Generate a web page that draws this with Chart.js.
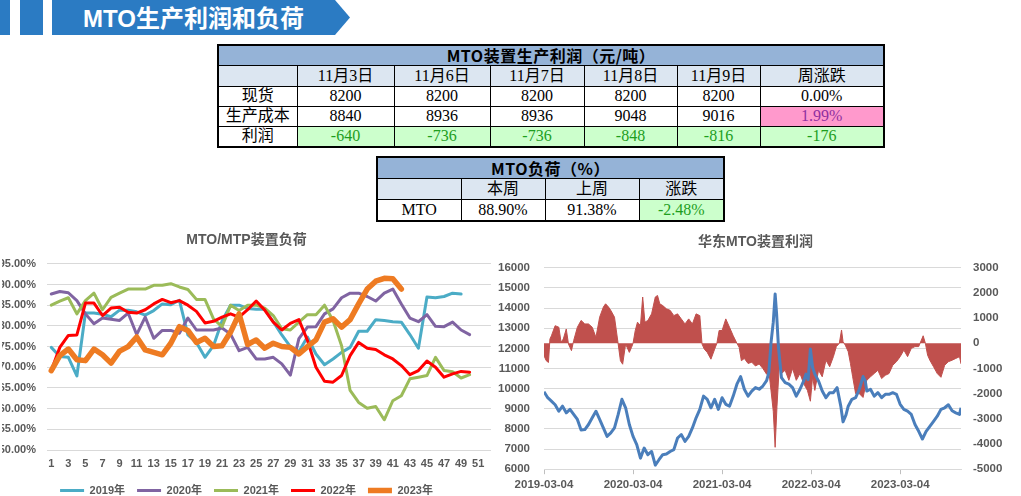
<!DOCTYPE html>
<html>
<head>
<meta charset="utf-8">
<script src="https://cdn.jsdelivr.net/npm/chart.js@4/dist/chart.umd.min.js"></script>
<style>
  body { margin: 0; width: 1021px; height: 496px; overflow: hidden; background: #fff; position: relative;
         font-family: "Liberation Serif", "Noto Sans CJK SC", serif; }
  .blk { position: absolute; top: 0; height: 35px; background: #2B7BC3; }
  #banner { left: 52px; width: 298px; clip-path: polygon(0 0, 283px 0, 298px 17.5px, 283px 35px, 0 35px); }
  #bannerText { position: absolute; left: 52px; width: 283px; top: 3px; text-align: center; color: #fff;
                font: bold 24px "Liberation Sans", "Noto Sans CJK SC", sans-serif; line-height: 32px; }
  table { position: absolute; border-collapse: collapse; table-layout: fixed; border: 2px solid #000; }
  td { border: 1px solid #000; text-align: center; padding: 0; font-size: 16px; line-height: 1;
       white-space: nowrap; overflow: hidden; color: #000; }
  .ttl { background: #95B3D7; font-weight: bold; font-family: "Noto Sans CJK SC", sans-serif; font-size: 16px;
         letter-spacing: 0.5px; }
  .hd { background: #DCE6F1; }
  .up { background: #FF99CC; color: #9030A0; }
  .dn { background: #CCFFCC; color: #1E9E1E; }
  canvas { position: absolute; }
</style>
</head>
<body>
<div class="blk" style="left:0;width:10px"></div>
<div class="blk" style="left:20px;width:23px"></div>
<div class="blk" id="banner"></div>
<div id="bannerText">MTO生产利润和负荷</div>

<table id="profitTable" style="left:217px;top:44px;width:666px"></table>
<table id="loadTable" style="left:376px;top:156px;width:347px"></table>

<canvas id="loadChart" width="503" height="278" style="left:-8px;top:228px"></canvas>
<canvas id="profitChart" width="531" height="268" style="left:490px;top:228px"></canvas>

<script>
// ======================================
// Data
// ======================================
const tableDates = ['11月3日', '11月6日', '11月7日', '11月8日', '11月9日'];
const spotPrice = [8200, 8200, 8200, 8200, 8200];
const prodCost = [8840, 8936, 8936, 9048, 9016];
const prodProfit = [-640, -736, -736, -848, -816];
const weekChange = ['0.00%', '1.99%', '-176'];

const loadHeads = ['本周', '上周', '涨跌'];
const loadRow = ['88.90%', '91.38%', '-2.48%'];

// MTO/MTP load by week, %
const weeks = Array.from({ length: 52 }, (_, i) => String(i + 1));
const load2019 = [74.8, 72.6, 72.4, 67.9, 83.1, 83.1, 82.8, 82.2, 83.8, 83.8, 83.4, 82.6, 83.7, 85.3, 85.1, 86.2,
  77.8, 76.0, 72.4, 75.2, 81.2, 85.0, 85.0, 84.2, 84.0, 84.0, 81.0, 77.8, 75.0, 73.8, 77.3, 73.2, 70.6, 72.0,
  73.6, 74.8, 78.7, 78.7, 81.5, 81.3, 81.0, 80.9, 77.9, 74.6, 87.0, 86.8, 87.1, 87.9, 87.7];
const load2020 = [87.7, 88.3, 88.0, 86.1, 82.9, 80.5, 81.9, 81.6, 81.3, 83.1, 77.9, 82.1, 77.0, 78.9, 78.9, 78.2,
  81.9, 79.0, 79.0, 79.0, 79.5, 78.0, 74.0, 74.8, 72.0, 72.0, 72.4, 70.8, 68.1, 76.9, 79.7, 79.8, 82.9, 84.1,
  86.8, 87.9, 87.9, 87.1, 86.0, 87.9, 88.9, 85.3, 81.9, 81.0, 82.7, 79.9, 79.8, 80.9, 79.0, 77.9];
const load2021 = [85.0, 86.0, 86.8, 82.9, 86.1, 87.9, 83.9, 86.9, 87.9, 88.9, 88.9, 88.9, 89.8, 89.8, 90.2, 89.4,
  88.8, 86.4, 86.4, 81.7, 79.8, 85.0, 83.7, 85.0, 85.0, 84.3, 82.5, 79.3, 79.0, 80.9, 82.7, 82.7, 85.0, 81.3,
  75.2, 64.4, 61.5, 60.1, 60.5, 57.3, 61.9, 63.1, 67.2, 67.6, 68.0, 72.4, 69.2, 68.9, 67.4, 68.2];
const load2022 = [69.2, 74.8, 77.7, 77.8, 85.5, 85.5, 82.5, 84.3, 84.5, 83.3, 83.1, 83.9, 85.3, 86.4, 85.6, 86.1,
  85.0, 83.5, 80.7, 81.1, 82.1, 82.9, 82.1, 83.9, 86.0, 83.8, 80.9, 79.0, 80.6, 81.5, 76.5, 70.0, 66.6, 66.4,
  68.0, 72.8, 76.0, 74.6, 74.3, 73.0, 72.0, 70.4, 68.2, 69.2, 71.5, 70.0, 67.6, 68.4, 69.0, 68.8];
const load2023 = [69.2, 72.8, 74.4, 71.8, 71.6, 74.4, 73.0, 71.0, 73.9, 75.0, 77.3, 74.2, 73.6, 73.0, 75.8, 79.8,
  78.9, 76.0, 77.0, 75.0, 75.2, 78.5, 82.9, 75.5, 76.6, 74.6, 75.8, 75.0, 74.8, 73.2, 75.0, 76.6, 80.9, 81.7,
  79.7, 81.5, 85.3, 88.9, 90.8, 91.5, 91.38, 88.9];
const loadYears = ['2019年', '2020年', '2021年', '2022年', '2023年'];
const loadColors = ['#4BACC6', '#8064A2', '#9BBB59', '#FF0000', '#EE7B22'];

// East China MTO: x = months after 2019-03-04
const tickMonths = [0, 12, 24, 36, 48];
const tickLabels = ['2019-03-04', '2020-03-04', '2021-03-04', '2022-03-04', '2023-03-04'];
const priceMonths = [0, 0.5, 1, 1.5, 2, 2.5, 3, 3.5, 4, 4.5, 5, 5.5, 6, 6.5, 7, 7.5, 8, 8.5, 9, 9.5, 10, 10.5,
  11, 11.5, 12, 12.5, 13, 13.5, 14, 14.5, 15, 15.5, 16, 16.5, 17, 17.5, 18, 18.5, 19, 19.5, 20, 20.5, 21, 21.5,
  22, 22.5, 23, 23.5, 24, 24.5, 25, 25.5, 26, 26.5, 27, 27.5, 28, 28.5, 29, 29.5, 30, 30.3, 30.6, 30.9, 31.15,
  31.35, 31.6, 32, 32.5, 33, 33.5, 34, 34.5, 35, 35.3, 35.6, 35.9, 36.2, 36.5, 37, 37.5, 38, 38.5, 39, 39.5, 40,
  40.3, 40.7, 41, 41.5, 42, 42.5, 43, 43.3, 43.5, 44, 44.5, 45, 45.5, 46, 46.5, 47, 47.5, 48, 48.5, 49, 49.5,
  50, 50.5, 51, 51.5, 52, 52.5, 53, 53.5, 54, 54.5, 55, 55.5, 56, 56.2];
const priceValues = [9850, 9550, 9380, 9200, 8880, 9130, 8800, 8970, 8720, 8470, 7950, 7970, 8220, 8550, 8880,
  8470, 8050, 7630, 7800, 8050, 8720, 9470, 9050, 8220, 7630, 7220, 6550, 7050, 6720, 6880, 6200, 6470, 6720,
  6750, 6880, 6970, 7550, 7720, 7380, 7630, 8050, 8550, 8970, 9630, 9470, 9050, 9470, 8970, 9550, 9220, 9130,
  9630, 10220, 10600, 9970, 9630, 9880, 10050, 9970, 10130, 10400, 10800, 12300, 13300, 14700, 13700, 12050,
  10550, 10300, 10220, 10050, 9630, 9970, 10380, 10720, 10450, 11970, 11050, 10720, 10380, 9880, 9550, 9800,
  9800, 10050, 9130, 8350, 8700, 9130, 9470, 9550, 9970, 10600, 10380, 9880, 9970, 9630, 9800, 9550, 9720,
  9720, 9800, 9720, 9220, 8970, 8880, 8720, 8220, 7880, 7500, 7880, 8130, 8380, 8630, 8970, 9050, 9200, 8900,
  8800, 8720, 9050];
const profitMonths = [0, 0.3, 0.6, 0.8, 1, 1.5, 2, 2.3, 2.6, 3, 3.3, 3.7, 4, 4.5, 5, 5.5, 6, 6.5, 7, 7.5, 8, 8.3,
  8.7, 9, 9.5, 10, 10.3, 10.6, 11, 11.5, 11.8, 12, 12.3, 12.6, 13, 13.3, 13.6, 14, 14.5, 15, 15.3, 15.6, 16,
  16.5, 17, 17.5, 18, 18.5, 19, 19.5, 20, 20.5, 21, 21.3, 21.6, 22, 22.5, 23, 23.3, 23.6, 24, 24.5, 25, 25.5,
  26, 26.3, 26.6, 27, 27.5, 28, 28.5, 29, 29.5, 30, 30.3, 30.6, 30.9, 31.15, 31.4, 31.7, 32, 32.5, 33, 33.5, 34,
  34.5, 35, 35.5, 35.9, 36.2, 36.5, 37, 37.5, 38, 38.5, 39, 39.4, 39.8, 40.1, 40.3, 40.6, 41, 41.3, 41.6, 42,
  42.5, 43, 43.5, 44, 44.5, 45, 45.5, 46, 46.5, 47, 47.5, 48, 48.5, 49, 49.5, 50, 50.5, 51.1, 51.4, 51.7, 52,
  52.5, 53, 53.5, 54, 54.5, 55, 55.5, 56, 56.2];
const profitValues = [-490, -690, -760, 170, 300, 700, 640, 40, 170, 570, -30, -290, 110, 640, 910, 770, 770, 640,
  240, 1040, 1440, 1570, 1440, 1310, 1040, -30, -690, -830, -30, -360, -160, 0, 510, 840, 700, 1840, 840, 910,
  1170, 1840, 1900, 1570, 1500, 1370, 1310, 1100, 1170, 970, 770, 970, 770, 1170, 1100, -30, -230, -360, -630,
  -230, 0, 510, 510, 970, 640, 300, 0, -160, -690, -600, -800, -750, -900, -820, -1000, -1230, -1090, -1890,
  -2700, -4130, -2500, -930, -1200, -1070, -1470, -1000, -1470, -1200, -1600, -1870, -2300, -1330, -1870, -1070,
  -1330, -670, -930, -530, -130, 0, 530, 70, -70, -330, -800, -1330, -2000, -2000, -2150, -1470, -1330, -1200,
  -1070, -1400, -1270, -1200, -870, -730, -530, -270, -530, -200, -130, -130, 300, 0, -470, -670, -930, -1200,
  -1350, -870, -730, -670, -600, -530, -816];

// ======================================
// Tables
// ======================================
function cell(text, cls) {
  return `<td${cls ? ` class="${cls}"` : ''}>${text}</td>`;
}

const t1 = document.getElementById('profitTable');
t1.innerHTML =
  '<colgroup>' + [79, 97, 96, 94, 93, 83, 124].map(w => `<col style="width:${w}px">`).join('') + '</colgroup>' +
  `<tr style="height:20px"><td class="ttl" colspan="7">MTO装置生产利润（元/吨）</td></tr>` +
  `<tr style="height:21px">${cell('', 'hd')}${tableDates.map(d => cell(d, 'hd')).join('')}${cell('周涨跌', 'hd')}</tr>` +
  `<tr style="height:20px">${cell('现货')}${spotPrice.map(v => cell(v)).join('')}${cell(weekChange[0])}</tr>` +
  `<tr style="height:20px">${cell('生产成本')}${prodCost.map(v => cell(v)).join('')}${cell(weekChange[1], 'up')}</tr>` +
  `<tr style="height:21px">${cell('利润')}${prodProfit.map(v => cell(v, 'dn')).join('')}${cell(weekChange[2], 'dn')}</tr>`;

const t2 = document.getElementById('loadTable');
t2.innerHTML =
  '<colgroup>' + [84, 84, 94, 85].map(w => `<col style="width:${w}px">`).join('') + '</colgroup>' +
  `<tr style="height:21px"><td class="ttl" colspan="4">MTO负荷（%）</td></tr>` +
  `<tr style="height:21px">${cell('', 'hd')}${loadHeads.map(h => cell(h, 'hd')).join('')}</tr>` +
  `<tr style="height:22px">${cell('MTO')}${cell(loadRow[0])}${cell(loadRow[1])}${cell(loadRow[2], 'dn')}</tr>`;

// ======================================
// Charts
// ======================================
Chart.defaults.font.family = '"Liberation Sans", "Noto Sans CJK SC", sans-serif';
Chart.defaults.color = '#595959';
Chart.defaults.animation = false;

const axisFont = { size: 11, weight: 'bold' };
const titleFont = { size: 14, weight: 'bold' };

const loadSeries = [load2019, load2020, load2021, load2022, load2023];

new Chart(document.getElementById('loadChart'), {
  type: 'line',
  data: {
    labels: weeks,
    datasets: loadSeries.map((vals, i) => ({
      label: loadYears[i],
      data: vals,
      borderColor: loadColors[i],
      backgroundColor: loadColors[i],
      borderWidth: i === 4 ? 5.5 : 3,
      borderJoinStyle: 'round',
      borderCapStyle: 'round',
      pointRadius: 0,
      tension: 0,
      order: 5 - i
    }))
  },
  options: {
    responsive: false,
    layout: { padding: { left: 10, right: 4, top: 0, bottom: 0 } },
    plugins: {
      title: { display: true, text: 'MTO/MTP装置负荷', color: '#595959', font: titleFont,
               padding: { top: 4, bottom: 15 } },
      legend: {
        position: 'bottom',
        labels: {
          usePointStyle: true, pointStyle: 'line', pointStyleWidth: 24,
          color: '#595959', font: axisFont, padding: 12,
          sort: (a, b) => a.datasetIndex - b.datasetIndex
        }
      },
      tooltip: { enabled: false }
    },
    scales: {
      x: {
        offset: true,
        afterFit: a => { a.height = 23; },
        grid: { display: false, drawTicks: false },
        border: { display: false },
        ticks: {
          autoSkip: false, maxRotation: 0, padding: 7, font: axisFont,
          callback: (v, i) => (i % 2 === 0 ? weeks[i] : '')
        }
      },
      y: {
        min: 50, max: 95,
        afterFit: a => { a.width = 45; },
        grid: { color: '#D9D9D9', drawTicks: false },
        border: { display: false },
        ticks: { stepSize: 5, padding: 11, font: axisFont, callback: v => v.toFixed(2) + '%' }
      }
    }
  }
});

new Chart(document.getElementById('profitChart'), {
  type: 'line',
  data: {
    datasets: [
      {
        label: '利润',
        data: profitMonths.map((m, i) => ({ x: m, y: profitValues[i] })),
        yAxisID: 'y1',
        fill: 'origin',
        backgroundColor: '#C0504D',
        borderColor: '#C0504D',
        borderWidth: 1,
        pointRadius: 0,
        tension: 0,
        order: 2
      },
      {
        label: '价格',
        data: priceMonths.map((m, i) => ({ x: m, y: priceValues[i] })),
        yAxisID: 'y',
        borderColor: '#4A7EBB',
        borderWidth: 3,
        borderJoinStyle: 'round',
        pointRadius: 0,
        tension: 0,
        order: 1
      }
    ]
  },
  options: {
    responsive: false,
    layout: { padding: { left: 0, right: 0, top: 0, bottom: 0 } },
    plugins: {
      title: { display: true, text: '华东MTO装置利润', color: '#595959', font: titleFont,
               padding: { top: 6, bottom: 17 } },
      legend: { display: false },
      tooltip: { enabled: false }
    },
    scales: {
      x: {
        type: 'linear', min: 0, max: 56.2,
        afterBuildTicks: axis => { axis.ticks = tickMonths.map(v => ({ value: v })); },
        grid: { drawOnChartArea: false, drawTicks: true, tickLength: 5, color: '#BFBFBF' },
        border: { color: '#D9D9D9' },
        ticks: { autoSkip: false, maxRotation: 0, padding: 4, font: { size: 11.5, weight: 'bold' },
                 callback: (v, i) => tickLabels[i] }
      },
      y: {
        position: 'left', min: 6000, max: 16000,
        afterFit: a => { a.width = 54; },
        grid: { color: '#D9D9D9', drawTicks: false },
        border: { display: false },
        ticks: { stepSize: 1000, padding: 14, font: { size: 11.5, weight: 'bold' }, callback: v => String(v) }
      },
      y1: {
        position: 'right', min: -5000, max: 3000,
        afterFit: a => { a.width = 60; },
        grid: { drawOnChartArea: false, drawTicks: false },
        border: { display: false },
        ticks: { stepSize: 1000, padding: 12, font: { size: 11.5, weight: 'bold' }, callback: v => String(v) }
      }
    }
  }
});
</script>
</body>
</html>
